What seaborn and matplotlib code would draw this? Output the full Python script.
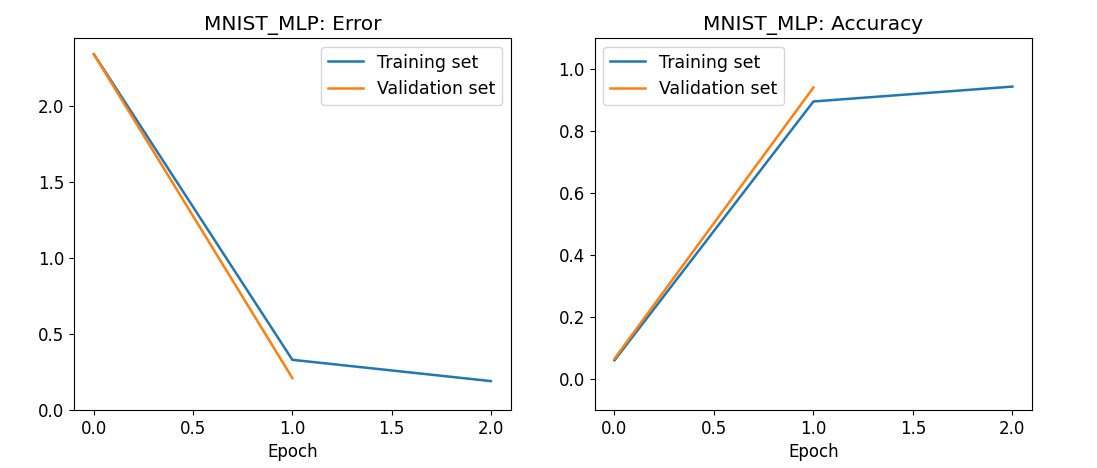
import matplotlib
matplotlib.use("Agg")
import matplotlib.pyplot as plt
import seaborn as sns

# values
epochs_train = [0, 1, 2]
epochs_val = [0, 1]
train_error = [2.34, 0.33, 0.19]
val_error = [2.34, 0.21]
train_acc = [0.060, 0.895, 0.943]
val_acc = [0.065, 0.940]

plt.rcParams.update({
    "font.family": ["DejaVu Sans"],
    "font.size": 12,
    "axes.titlesize": 14.5,
    "axes.labelsize": 12,
    "xtick.labelsize": 12,
    "ytick.labelsize": 12,
    "legend.fontsize": 12.5,
    "lines.linewidth": 1.8,
})
blue, orange = sns.color_palette("tab10")[:2]

fig = plt.figure(figsize=(10.97, 4.68), dpi=100)
ax1 = fig.add_axes([0.0675, 0.124, 0.398, 0.795])
ax2 = fig.add_axes([0.542, 0.124, 0.399, 0.795])

sns.lineplot(x=epochs_train, y=train_error, ax=ax1, color=blue, label="Training set")
sns.lineplot(x=epochs_val, y=val_error, ax=ax1, color=orange, label="Validation set")
ax1.set_ylim(bottom=0)
ax1.set_title("MNIST_MLP: Error")
ax1.set_xlabel("Epoch")
ax1.set_xticks([0.0, 0.5, 1.0, 1.5, 2.0])
ax1.legend(loc="upper right")

sns.lineplot(x=epochs_train, y=train_acc, ax=ax2, color=blue, label="Training set")
sns.lineplot(x=epochs_val, y=val_acc, ax=ax2, color=orange, label="Validation set")
ax2.set_ylim(-0.1, 1.1)
ax2.set_title("MNIST_MLP: Accuracy")
ax2.set_xlabel("Epoch")
ax2.set_xticks([0.0, 0.5, 1.0, 1.5, 2.0])
ax2.legend(loc="upper left")

fig.savefig("out.png", dpi=100)
